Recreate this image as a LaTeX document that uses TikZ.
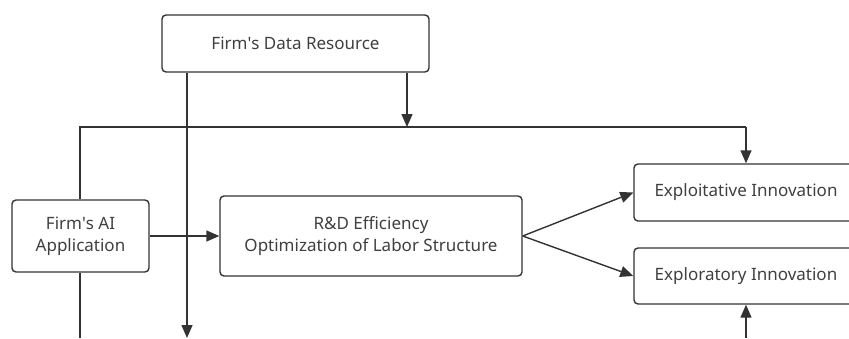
\documentclass[tikz,border=0pt]{standalone}
\usepackage{fontspec}
\setmainfont{Noto Sans}
\usetikzlibrary{arrows.meta}
\definecolor{linegray}{HTML}{333333}
\definecolor{textgray}{HTML}{404040}
\tikzset{
  box/.style={draw=linegray, line width=1.4pt, rounded corners=4pt, fill=white,
    inner sep=0pt, align=center, text=textgray, font=\fontsize{17}{22}\selectfont},
  flow/.style={draw=linegray, line width=1.4pt, -{Triangle[length=13pt,width=11pt]}},
  wire/.style={draw=linegray, line width=1.4pt}
}
\begin{document}
\begin{tikzpicture}[x=1pt, y=-1pt]
\useasboundingbox (0,0) rectangle (849,338);

% boxes
\node[box, minimum width=267pt, minimum height=57pt] (data) at (295.5,43.5) {Firm\textquotesingle s Data Resource};
\node[box, minimum width=137pt, minimum height=72pt] (ai) at (80.5,236) {Firm\textquotesingle s AI\\Application};
\node[box, minimum width=302pt, minimum height=80pt] (rd) at (371,236) {R\&D Efficiency\\Optimization of Labor Structure};
\node[box, minimum width=224pt, minimum height=57pt] (exploit) at (746,192.5) {Exploitative Innovation};
\node[box, minimum width=224pt, minimum height=56pt] (explore) at (746,276) {Exploratory Innovation};

% free ends
\coordinate (top) at (80,127);
\coordinate (topr) at (746,127);
\coordinate (hit) at (407,127);
\coordinate (downa) at (187,338);
\coordinate (downb) at (80,338);
\coordinate (upc) at (746,338);

% connectors
\draw[wire] (ai.north -| top) -- (top) -- (topr);
\draw[flow] (topr) -- (exploit.north);
\draw[flow] (data.south -| hit) -- (hit);
\draw[flow] (data.south -| downa) -- (downa);
\draw[wire] (ai.south -| downb) -- (downb);
\draw[flow] (ai) -- (rd);
\draw[flow] (rd.east) -- (exploit.west);
\draw[flow] (rd.east) -- (explore.west);
\draw[flow] (upc) -- (explore.south);

\end{tikzpicture}
\end{document}
